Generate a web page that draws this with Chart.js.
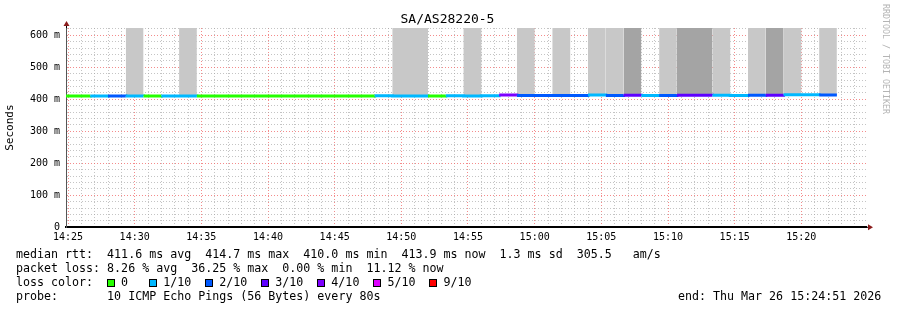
<!DOCTYPE html>
<html>
<head>
<meta charset="utf-8">
<title>SA/AS28220-5</title>
<script src="https://cdn.jsdelivr.net/npm/chart.js@4.4.1/dist/chart.umd.min.js"></script>
<style>
body { margin: 0; background: #fff; }
#wrap { position: relative; width: 897px; height: 310px; font-family: "DejaVu Sans Mono", monospace; color: #000; overflow: hidden; }
#wrap canvas { position: absolute; left: 0; top: 0; }
.txt { position: absolute; white-space: pre; font-size: 11.65px; line-height: 14px; }
.sw { display: inline-block; width: 8px; height: 8px; box-sizing: border-box; border: 1px solid #000; margin-right: -1px; vertical-align: -1px; }
#title { position: absolute; left: 0; width: 895px; top: 11px; text-align: center; font-size: 13px; line-height: 16px; white-space: pre; }
#mark { position: absolute; left: 881px; top: 4px; font-size: 8.3px; line-height: 10px; color: #b4b4b4; writing-mode: vertical-rl; text-orientation: sideways; white-space: pre; }
</style>
</head>
<body>
<div id="wrap">
  <canvas id="chart" width="897" height="310"></canvas>
  <div id="title">SA/AS28220-5</div>
  <div id="mark">RRDTOOL / TOBI OETIKER</div>
  <div class="txt" style="left:16px;top:247px">median rtt:  411.6 ms avg  414.7 ms max  410.0 ms min  413.9 ms now  1.3 ms sd  305.5   am/s</div>
  <div class="txt" style="left:16px;top:261px">packet loss: 8.26 % avg  36.25 % max  0.00 % min  11.12 % now</div>
  <div class="txt" id="lossrow" style="left:16px;top:275px"></div>
  <div class="txt" style="left:16px;top:289px">probe:       10 ICMP Echo Pings (56 Bytes) every 80s</div>
  <div class="txt" style="left:678px;top:289px">end: Thu Mar 26 15:24:51 2026</div>
</div>
<script>
// rrd steps: 80 s each, times in seconds since midnight
var stepStart = 51840;   // 14:24:00
var stepLen = 80;
var viewStart = 51891;   // 14:24:51
var viewEnd = 55491;     // 15:24:51
var yMax = 623;          // smoke runs off the top of the graph

// median rtt per step (ms)
var medianRtt = [
  410.2, 410.2, 410.6, 410.8, 410.6, 410.3, 410.5, 410.5, 410.2, 410.7,
  410.2, 410.1, 410.2, 410.3, 410.2, 410.1, 410.2, 410.3, 410.9, 410.8,
  410.8, 410.4, 411.0, 410.5, 411.2, 413.6, 412.0, 412.0, 412.1, 412.1,
  413.2, 412.3, 412.4, 412.2, 412.3, 412.6, 412.6, 412.4, 412.3, 412.5,
  412.6, 414.7, 414.5, 413.9
];
// lost pings per step (out of 10)
var lossTenths = [
  0, 0, 1, 2, 1, 0, 1, 1, 0, 0,
  0, 0, 0, 0, 0, 0, 0, 0, 1, 1,
  1, 0, 1, 1, 1, 4, 2, 2, 2, 2,
  1, 2, 3, 1, 2, 3, 3, 1, 1, 2,
  3, 1, 1, 2
];
// smoke per step: 0 none, 1 light, 2 dark
var smoke = [
  0, 0, 0, 0, 1, 0, 0, 1, 0, 0,
  0, 0, 0, 0, 0, 0, 0, 0, 0, 1,
  1, 0, 0, 1, 0, 0, 1, 0, 1, 0,
  1, 1, 2, 0, 1, 2, 2, 1, 0, 1,
  2, 1, 0, 1
];

var lossKeys = [0, 1, 2, 3, 4, 5, 9];
var lossLabels = ['0', '1/10', '2/10', '3/10', '4/10', '5/10', '9/10'];
var lossColors = { 0: '#26ff00', 1: '#00b8ff', 2: '#0059ff', 3: '#5e00ff', 4: '#7e00ff', 5: '#dd00ff', 9: '#ff0000' };

// legend row
document.getElementById('lossrow').innerHTML = 'loss color:  ' + lossKeys.map(function (k, i) {
  return '<i class="sw" style="background:' + lossColors[k] + '"></i> ' + lossLabels[i].padEnd(2);
}).join('  ');

// each step becomes a flat piece from its start to its end (rrd style steps)
function stepPoints(vals) {
  var out = [];
  vals.forEach(function (v, i) {
    out.push({ x: stepStart + i * stepLen, y: v });
    out.push({ x: stepStart + (i + 1) * stepLen, y: v });
  });
  return out;
}
var lightTop = smoke.map(function (s, i) { return s >= 1 ? yMax : medianRtt[i]; });
var darkTop = smoke.map(function (s, i) { return s >= 2 ? yMax : medianRtt[i]; });

function hhmm(v) {
  var h = Math.floor(v / 3600), m = Math.floor((v % 3600) / 60);
  return h + ':' + (m < 10 ? '0' : '') + m;
}

var gridColor = function (major) {
  return function (c) {
    if (!c.tick) return 'rgba(0,0,0,0)';
    return c.tick.value % major === 0 ? 'rgba(240,100,100,0.75)' : 'rgba(165,165,165,0.65)';
  };
};

var axisArrows = {
  id: 'axisArrows',
  afterDraw: function (chart) {
    var ctx = chart.ctx, a = chart.chartArea;
    ctx.save();
    ctx.strokeStyle = '#000';
    ctx.lineWidth = 1;
    ctx.beginPath();
    ctx.moveTo(a.left + 0.5, a.top);
    ctx.lineTo(a.left + 0.5, a.top - 3);
    ctx.moveTo(a.right, a.bottom);
    ctx.lineTo(a.right + 3, a.bottom);
    ctx.stroke();
    ctx.fillStyle = '#8b1c1c';
    ctx.beginPath();
    ctx.moveTo(a.left + 0.5 - 3, a.top - 2);
    ctx.lineTo(a.left + 0.5 + 3, a.top - 2);
    ctx.lineTo(a.left + 0.5, a.top - 7);
    ctx.closePath();
    ctx.fill();
    ctx.beginPath();
    ctx.moveTo(a.right + 2, a.bottom - 3);
    ctx.lineTo(a.right + 2, a.bottom + 3);
    ctx.lineTo(a.right + 7, a.bottom);
    ctx.closePath();
    ctx.fill();
    ctx.restore();
  }
};

Chart.defaults.font.family = '"DejaVu Sans Mono", monospace';
Chart.defaults.color = '#000';

new Chart(document.getElementById('chart'), {
  type: 'line',
  data: {
    datasets: [
      {
        label: 'median rtt',
        data: stepPoints(medianRtt),
        borderWidth: 3,
        borderColor: lossColors[0],
        pointRadius: 0,
        tension: 0,
        fill: false,
        order: 0,
        segment: {
          borderColor: function (c) { return lossColors[lossTenths[Math.floor(c.p0DataIndex / 2)]]; }
        }
      },
      {
        label: 'smoke',
        data: stepPoints(lightTop),
        borderWidth: 0,
        borderColor: 'rgba(0,0,0,0)',
        backgroundColor: '#c8c8c8',
        pointRadius: 0,
        tension: 0,
        fill: '-1',
        order: 2
      },
      {
        label: 'smoke dark',
        data: stepPoints(darkTop),
        borderWidth: 0,
        borderColor: 'rgba(0,0,0,0)',
        backgroundColor: '#a4a4a4',
        pointRadius: 0,
        tension: 0,
        fill: '-2',
        order: 1
      }
    ]
  },
  options: {
    responsive: false,
    animation: false,
    devicePixelRatio: 1,
    layout: { padding: { top: 28, right: 31, bottom: 0, left: 0 } },
    plugins: { legend: { display: false }, tooltip: { enabled: false } },
    scales: {
      x: {
        type: 'linear',
        min: viewStart,
        max: viewEnd,
        afterBuildTicks: function (s) {
          var t = [];
          for (var v = Math.ceil(viewStart / 60) * 60; v <= viewEnd; v += 60) t.push({ value: v });
          s.ticks = t;
        },
        afterFit: function (s) { s.height = 310 - 227.3; },
        ticks: {
          autoSkip: false, maxRotation: 0, padding: 4, font: { size: 10 },
          callback: function (v) { return v % 300 === 0 ? hhmm(v) : ''; }
        },
        grid: { drawTicks: false, lineWidth: 1, color: gridColor(300) },
        border: { display: true, color: '#000', width: 2, dash: [1, 2] }
      },
      y: {
        min: 0,
        max: yMax,
        afterBuildTicks: function (s) {
          var t = [];
          for (var v = 0; v <= 620; v += 20) t.push({ value: v });
          s.ticks = t;
        },
        afterFit: function (s) { s.width = 66; },
        ticks: {
          autoSkip: false, padding: 6, font: { size: 10 },
          callback: function (v) { return v % 100 ? '' : (v ? v + ' m' : '0'); }
        },
        grid: { drawTicks: false, lineWidth: 1, color: gridColor(100) },
        border: { display: true, color: '#555', width: 1, dash: [1, 2] },
        title: { display: true, text: 'Seconds', font: { size: 11 } }
      }
    }
  },
  plugins: [axisArrows]
});
</script>
</body>
</html>
